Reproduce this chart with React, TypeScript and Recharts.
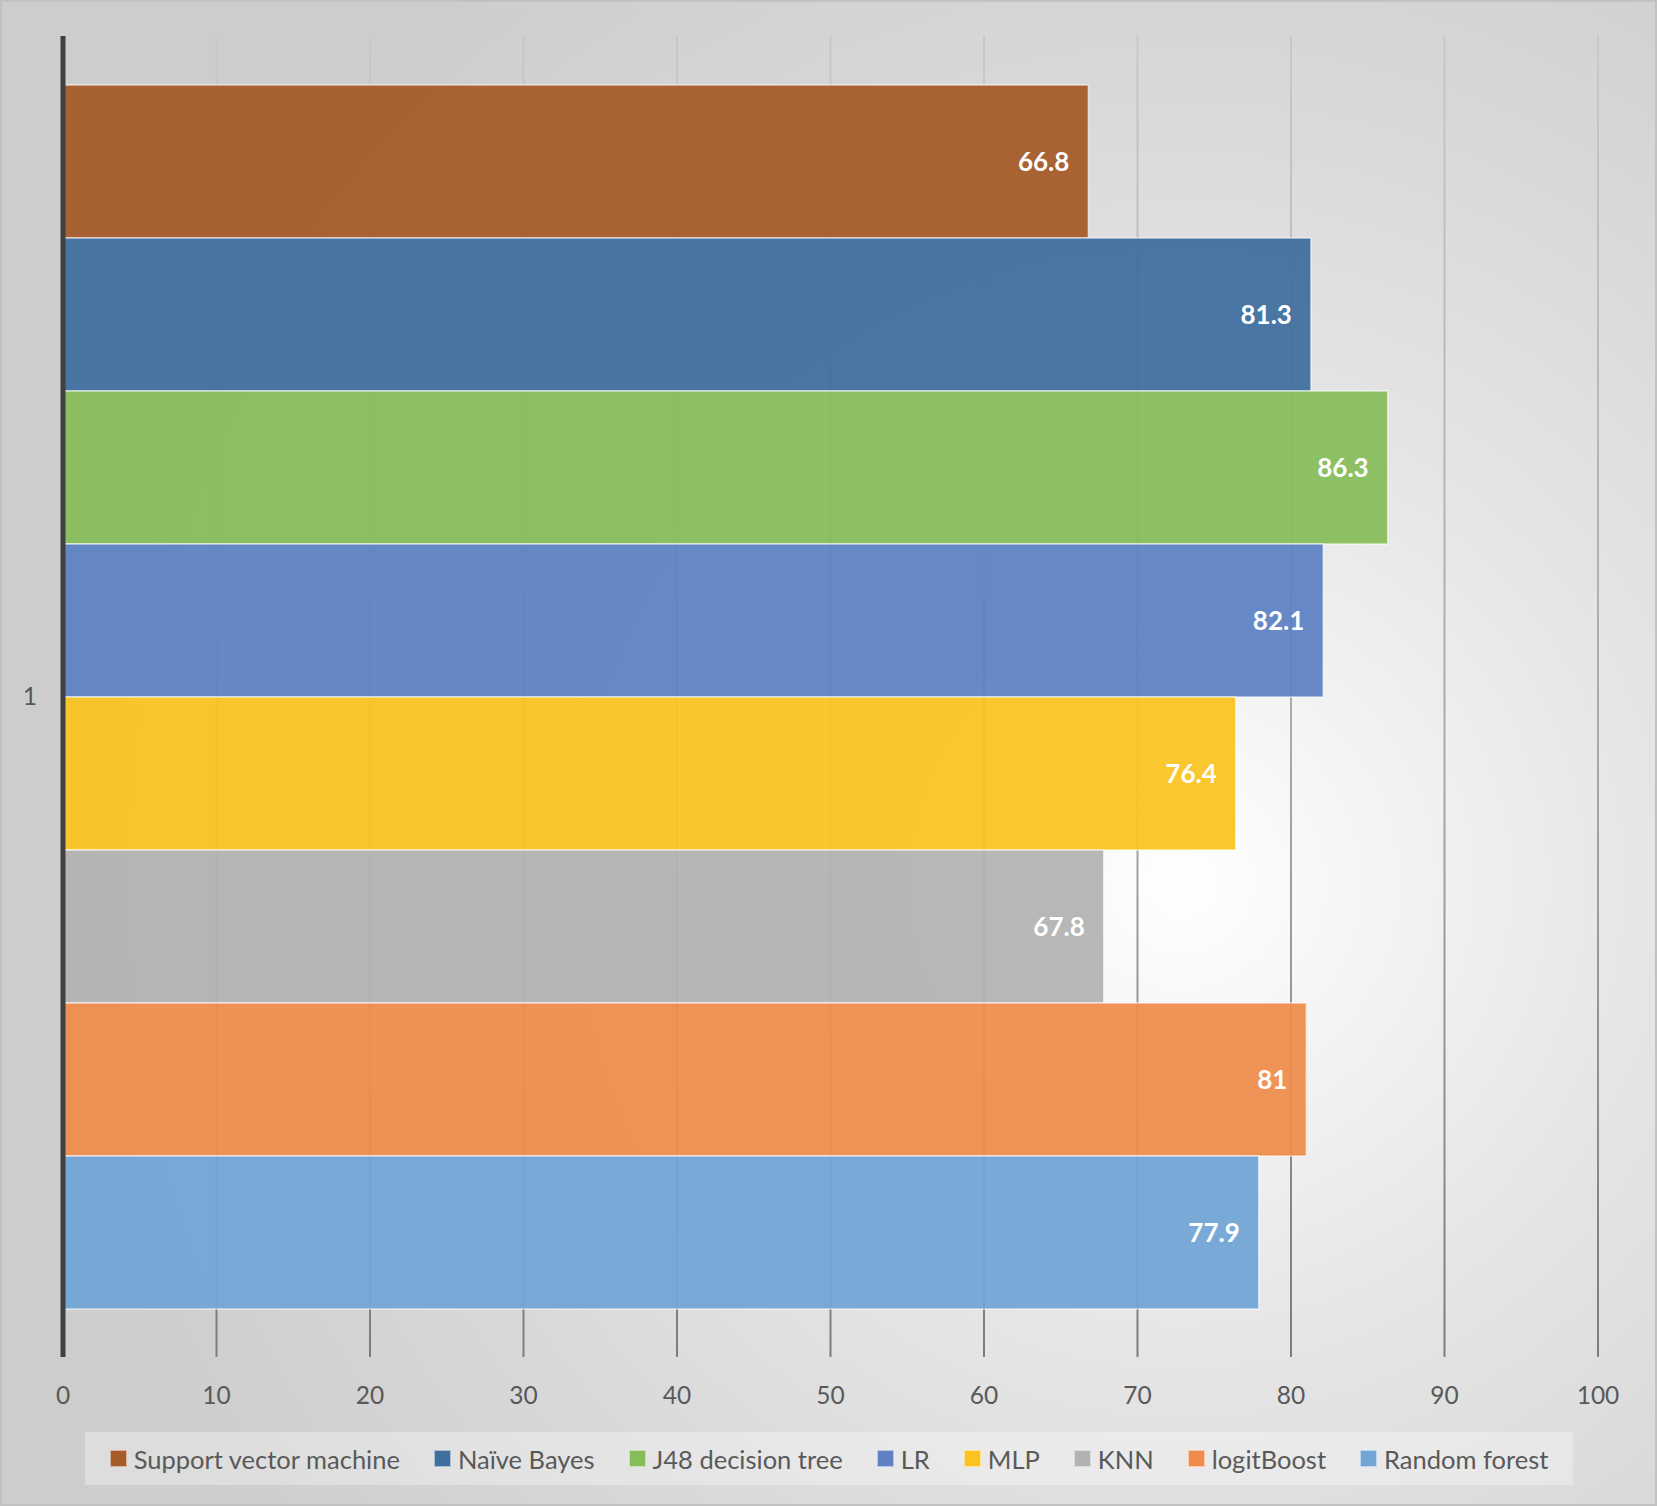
import { Bar, BarChart, CartesianGrid, LabelList, Legend, XAxis, YAxis } from "recharts";

const CATEGORIES = ["1"];

const SERIES_KEYS = ["svm", "nb", "j48", "lr", "mlp", "knn", "logit", "rf"];
const SERIES_NAMES = [
  "Support vector machine",
  "Naïve Bayes",
  "J48 decision tree",
  "LR",
  "MLP",
  "KNN",
  "logitBoost",
  "Random forest",
];
const SERIES_VALUES = [66.8, 81.3, 86.3, 82.1, 76.4, 67.8, 81, 77.9];
const SERIES_COLORS = [
  "#A65B28",
  "#3F6F9E",
  "#86BD59",
  "#5E82C3",
  "#FAC322",
  "#B2B2B2",
  "#EF8C4B",
  "#72A5D5",
];

const X_TICKS = [0, 10, 20, 30, 40, 50, 60, 70, 80, 90, 100];

const FONT = "Lato, 'Open Sans', sans-serif";
const TEXT_GRAY = "#595959";

const chartData = CATEGORIES.map((name) => {
  const row: Record<string, string | number> = { name };
  SERIES_KEYS.forEach((key, i) => {
    row[key] = SERIES_VALUES[i];
  });
  return row;
});

function ChartLegend() {
  return (
    <div style={{ height: 89, paddingTop: 15, boxSizing: "border-box" }}>
      <div
        style={{
          marginLeft: 85,
          width: 1488,
          height: 53,
          background: "rgba(255,255,255,0.32)",
          display: "flex",
          alignItems: "center",
          justifyContent: "center",
          gap: 34,
          fontFamily: FONT,
          fontSize: 25.5,
          color: TEXT_GRAY,
        }}
      >
        {SERIES_NAMES.map((name, i) => (
          <div key={name} style={{ display: "flex", alignItems: "center", gap: 7 }}>
            <span
              style={{
                width: 15,
                height: 15,
                background: SERIES_COLORS[i],
                border: "1px solid rgba(255,255,255,0.55)",
                display: "inline-block",
              }}
            />
            <span>{name}</span>
          </div>
        ))}
      </div>
    </div>
  );
}

export default function App() {
  return (
    <div
      style={{
        position: "absolute",
        left: 0,
        top: 0,
        width: 1657,
        height: 1506,
        boxSizing: "border-box",
        border: "2px solid #c2c2c2",
        background:
          "radial-gradient(circle 1150px at 1180px 880px, #ffffff 0%, #f6f6f6 14%, #e6e6e6 40%, #d8d8d8 70%, #cdcdcd 100%)",
      }}
    >
      <div style={{ position: "absolute", left: -2, top: -2 }}>
        <BarChart
          width={1657}
          height={1506}
          data={chartData}
          layout="vertical"
          margin={{ top: 36, right: 59, bottom: 0, left: 0 }}
          barCategoryGap="3.7%"
          barGap={0}
        >
          <defs>
            <linearGradient id="gridGrad" gradientUnits="userSpaceOnUse" x1="0" y1="36" x2="0" y2="1357">
              <stop offset="0%" stopColor="#c8c8c8" />
              <stop offset="55%" stopColor="#a8a8a8" />
              <stop offset="100%" stopColor="#7c7c7c" />
            </linearGradient>
          </defs>
          <CartesianGrid horizontal={false} stroke="url(#gridGrad)" strokeWidth={2} />
          <XAxis
            type="number"
            domain={[0, 100]}
            ticks={X_TICKS}
            axisLine={false}
            tickLine={false}
            tickMargin={24}
            height={60}
            tick={{ fill: TEXT_GRAY, fontSize: 24.5, fontFamily: FONT }}
          />
          <YAxis
            type="category"
            dataKey="name"
            width={63}
            axisLine={{ stroke: "#404040", strokeWidth: 5 }}
            tickLine={false}
            tickMargin={20}
            tick={{ fill: TEXT_GRAY, fontSize: 24.5, fontFamily: FONT }}
          />
          <Legend verticalAlign="bottom" content={<ChartLegend />} wrapperStyle={{ left: 0, width: 1657 }} />
          {SERIES_KEYS.map((key, i) => (
            <Bar
              key={key}
              dataKey={key}
              name={SERIES_NAMES[i]}
              fill={SERIES_COLORS[i]}
              fillOpacity={0.94}
              stroke="#ffffff"
              strokeOpacity={0.6}
              strokeWidth={1.5}
              isAnimationActive={false}
            >
              <LabelList
                dataKey={key}
                position="insideRight"
                offset={19}
                fill="#ffffff"
                fontSize={26}
                fontWeight="bold"
                fontFamily={FONT}
              />
            </Bar>
          ))}
        </BarChart>
      </div>
    </div>
  );
}
